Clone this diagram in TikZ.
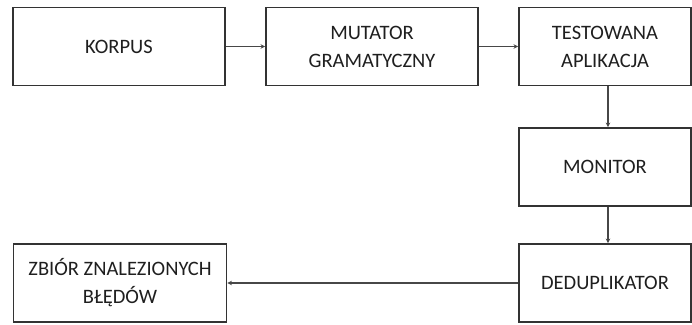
\documentclass[tikz,border=0pt]{standalone}
\usepackage{fontspec}
\setmainfont{Carlito}
\usetikzlibrary{arrows.meta}
\definecolor{boxline}{HTML}{333333}
\definecolor{flowline}{HTML}{474747}
\definecolor{labeltext}{HTML}{1F1F1F}
\begin{document}
\begin{tikzpicture}[x=1pt,y=-1pt,
  block/.style={draw=boxline, line width=1.9pt, fill=white, inner sep=0pt,
    minimum height=78pt, align=center, text=labeltext,
    font=\fontsize{20.5}{28}\selectfont},
  flow/.style={draw=flowline, line width=1.1pt,
    -{Stealth[length=4.5pt,width=4.5pt]}}]
  \useasboundingbox (0,0) rectangle (692,324);
  \fill[white] (0,0) rectangle (692,324);

  \node[block, minimum width=212pt] (korpus) at (119,46.5) {KORPUS};
  \node[block, minimum width=212pt] (mutator) at (372,46.5) {MUTATOR\\GRAMATYCZNY};
  \node[block, minimum width=172pt] (app) at (605,46.5) {TESTOWANA\\APLIKACJA};
  \node[block, minimum width=172pt] (monitor) at (605,167) {MONITOR};
  \node[block, minimum width=172pt] (dedup) at (605,283) {DEDUPLIKATOR};
  \node[block, minimum width=213pt] (bugs) at (120,283) {ZBIÓR ZNALEZIONYCH\\BŁĘDÓW};

  \draw[flow] (korpus) -- (mutator);
  \draw[flow] (mutator) -- (app);
  \draw[flow] ([xshift=3pt]app.south) -- ([xshift=3pt]monitor.north);
  \draw[flow] ([xshift=3pt]monitor.south) -- ([xshift=3pt]dedup.north);
  \draw[flow] (dedup) -- (bugs);
\end{tikzpicture}
\end{document}
